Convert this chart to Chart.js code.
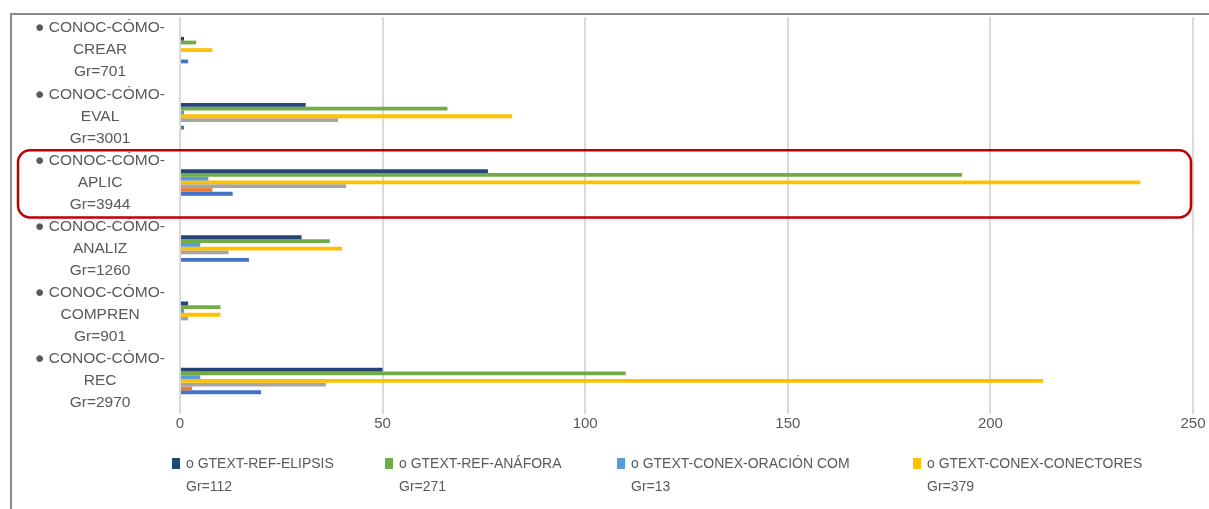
<!DOCTYPE html>
<html>
<head>
<meta charset="utf-8">
<script src="https://cdn.jsdelivr.net/npm/chart.js@4/dist/chart.umd.min.js"></script>
<style>
  html, body { margin: 0; padding: 0; background: #fff; }
  #wrap { position: relative; width: 1209px; height: 509px; overflow: hidden; }
  #frame { position: absolute; left: 10px; top: 13px; right: -6px; bottom: -6px; border: 2px solid #8a8a8a; }
  #chart { position: absolute; left: 0; top: 0; }
  #legend { position: absolute; left: 172px; top: 452px; display: flex;
            font: 14px "Liberation Sans", Arial, sans-serif; color: #595959; }
  .item { display: flex; align-items: flex-start; }
  .item:nth-child(1) { width: 213px; }
  .item:nth-child(2) { width: 232px; }
  .item:nth-child(3) { width: 296px; }
  .sw { width: 8px; height: 11px; margin-top: 6px; margin-right: 6px; flex: none; }
  .txt { line-height: 23px; white-space: nowrap; }
</style>
</head>
<body>
<div id="wrap">
  <div id="frame"></div>
  <canvas id="chart" width="1209" height="509"></canvas>
  <div id="legend"></div>
</div>
<script>
// Categories (each one is drawn as a three-line label)
const categorias = [
  ['● CONOC-CÓMO-', 'CREAR', 'Gr=701'],
  ['● CONOC-CÓMO-', 'EVAL', 'Gr=3001'],
  ['● CONOC-CÓMO-', 'APLIC', 'Gr=3944'],
  ['● CONOC-CÓMO-', 'ANALIZ', 'Gr=1260'],
  ['● CONOC-CÓMO-', 'COMPREN', 'Gr=901'],
  ['● CONOC-CÓMO-', 'REC', 'Gr=2970']
];

// Series, in the order they are stacked inside each category (top to bottom)
const nombresSeries = [
  ['o GTEXT-REF-ELIPSIS', 'Gr=112'],
  ['o GTEXT-REF-ANÁFORA', 'Gr=271'],
  ['o GTEXT-CONEX-ORACIÓN COM', 'Gr=13'],
  ['o GTEXT-CONEX-CONECTORES', 'Gr=379'],
  null,
  null,
  null
];
const elipsis    = [1, 31, 76, 30, 2, 50];
const anafora    = [4, 66, 193, 37, 10, 110];
const oracionCom = [0, 1, 7, 5, 1, 5];
const conectores = [8, 82, 237, 40, 10, 213];
const serieGris    = [0, 39, 41, 12, 2, 36];
const serieNaranja = [0, 0, 8, 0, 0, 3];
const serieAzul    = [2, 1, 13, 17, 0, 20];

const valoresSeries = [elipsis, anafora, oracionCom, conectores, serieGris, serieNaranja, serieAzul];
const coloresSeries = ['#264478', '#70AD47', '#5B9BD5', '#FFC000', '#A5A5A5', '#ED7D31', '#4472C4'];

// Axis ticks
const ticksX = [0, 50, 100, 150, 200, 250];

// Highlighted category
const categoriaDestacada = 2;

const textoGris = '#595959';
const fuente = '"Liberation Sans", Arial, sans-serif';

// Rounded red frame around the highlighted category
const marcoDestacado = {
  id: 'marcoDestacado',
  afterDatasetsDraw(chart) {
    const ys = chart.scales.y, xs = chart.scales.x;
    const banda = (ys.bottom - ys.top) / categorias.length;
    const c = ys.getPixelForValue(categoriaDestacada);
    const top = c - banda / 2 + 1;
    const bottom = c + banda / 2 + 2;
    const left = 18;
    const right = xs.getPixelForValue(ticksX[ticksX.length - 1]) - 2;
    const ctx = chart.ctx;
    ctx.save();
    ctx.strokeStyle = '#C00000';
    ctx.lineWidth = 2.5;
    ctx.beginPath();
    ctx.roundRect(left, top, right - left, bottom - top, 12);
    ctx.stroke();
    ctx.restore();
  }
};

const datasets = valoresSeries.map((vals, i) => ({
  label: nombresSeries[i] ? nombresSeries[i].join(' ') : '',
  data: vals,
  backgroundColor: coloresSeries[i],
  borderWidth: 0,
  categoryPercentage: 0.4,
  barPercentage: 1.0
}));

const chart = new Chart(document.getElementById('chart'), {
  type: 'bar',
  data: { labels: categorias, datasets },
  options: {
    indexAxis: 'y',
    responsive: false,
    animation: false,
    layout: { padding: { left: 0, top: 17, right: 16, bottom: 0 } },
    plugins: {
      legend: { display: false },
      tooltip: { enabled: false }
    },
    scales: {
      x: {
        min: ticksX[0],
        max: ticksX[ticksX.length - 1],
        afterBuildTicks(scale) { scale.ticks = ticksX.map(v => ({ value: v })); },
        afterFit(scale) { scale.height = 95; },
        grid: { color: '#d9d9d9', lineWidth: 2, drawTicks: false },
        border: { display: false },
        ticks: { color: textoGris, font: { family: fuente, size: 15 }, padding: 1 }
      },
      y: {
        afterFit(scale) {
          scale.width = 180;
          scale.paddingTop = 0;
          scale.paddingBottom = 0;
        },
        grid: { display: false },
        border: { display: false },
        ticks: {
          autoSkip: false,
          color: textoGris,
          crossAlign: 'center',
          padding: 7,
          font: { family: fuente, size: 15.5, lineHeight: 22 / 15.5 }
        }
      }
    }
  },
  plugins: [marcoDestacado]
});

// Legend: only the named series, two text lines each
const leyenda = document.getElementById('legend');
nombresSeries.forEach((nombre, i) => {
  if (!nombre) return;
  const item = document.createElement('div');
  item.className = 'item';
  const sw = document.createElement('div');
  sw.className = 'sw';
  sw.style.background = coloresSeries[i];
  const txt = document.createElement('div');
  txt.className = 'txt';
  txt.innerHTML = nombre.join('<br>');
  item.appendChild(sw);
  item.appendChild(txt);
  leyenda.appendChild(item);
});
</script>
</body>
</html>
